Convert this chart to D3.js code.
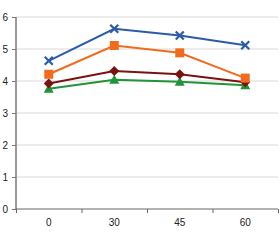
<!DOCTYPE html>
<html><head><meta charset="utf-8">
<script src="https://cdn.jsdelivr.net/npm/d3@7"></script>
<style>body{margin:0;background:#fff}svg{display:block}text{font-family:"Liberation Sans",Arial,sans-serif}</style>
</head><body><svg id="c" width="280" height="240"></svg>
<script>
const categories = ["0","30","45","60"];
const seriesBlue   = [4.63, 5.63, 5.42, 5.12];
const seriesOrange = [4.21, 5.11, 4.88, 4.09];
const seriesRed    = [3.92, 4.31, 4.21, 3.96];
const seriesGreen  = [3.76, 4.04, 3.98, 3.87];
const yTicks = [0,1,2,3,4,5,6];

const series = [
  {values: seriesGreen, color: "#1f9438", marker: "triangle"},
  {values: seriesRed, color: "#7a1212", marker: "diamond"},
  {values: seriesOrange, color: "#f26b1d", marker: "square"},
  {values: seriesBlue, color: "#2b5ba8", marker: "cross"}
];

const svg = d3.select("#c");
const x = d3.scaleBand().domain(categories).range([16, 278]);
const y = d3.scaleLinear().domain([0, 6]).range([209, 17]);

// grid
svg.append("g").selectAll("line").data(yTicks.filter(d=>d>0)).join("line")
  .attr("x1", 16).attr("x2", 278).attr("y1", d=>y(d)).attr("y2", d=>y(d))
  .attr("stroke", "#d8d8d8").attr("stroke-width", 1);

// y axis
const ya = svg.append("g").attr("transform","translate(16,0)")
  .call(d3.axisLeft(y).tickValues(yTicks).tickSize(4).tickPadding(4).tickFormat(d3.format("d")));
ya.select(".domain").attr("stroke","#9a9a9a").attr("stroke-width",2).attr("d","M0,17V209");
ya.selectAll(".tick line").attr("stroke","#777");
ya.selectAll("text").attr("font-size",10).attr("fill","#222");

// x axis
const xa = svg.append("g").attr("transform","translate(0,209)")
  .call(d3.axisBottom(x).tickSize(0).tickPadding(10));
xa.select(".domain").attr("stroke","#666").attr("stroke-width",1).attr("d","M16,0H278");
xa.selectAll("text").attr("font-size",10).attr("fill","#222");
const bounds = categories.map(c=>x(c)).concat([x.range()[1]]);
svg.append("g").selectAll("line").data(bounds).join("line")
  .attr("x1", d=>d+0.5).attr("x2", d=>d+0.5).attr("y1", 209).attr("y2", 213)
  .attr("stroke", "#666");

const cx = c => x(c) + x.bandwidth()/2;
const line = d3.line().x((d,i)=>cx(categories[i])).y(d=>y(d));

series.forEach(s => {
  svg.append("path").datum(s.values).attr("d", line)
    .attr("fill","none").attr("stroke", s.color).attr("stroke-width", 2);
  const g = svg.append("g");
  s.values.forEach((v,i) => {
    const px = cx(categories[i]), py = y(v);
    if (s.marker === "cross") {
      g.append("path").attr("d", `M${px-4},${py-4}L${px+4},${py+4}M${px-4},${py+4}L${px+4},${py-4}`)
        .attr("stroke", s.color).attr("stroke-width", 2.2);
    } else if (s.marker === "square") {
      g.append("rect").attr("x", px-4.5).attr("y", py-4.5).attr("width", 9).attr("height", 9).attr("fill", s.color);
    } else if (s.marker === "diamond") {
      g.append("path").attr("d", `M${px},${py-5}L${px+5},${py}L${px},${py+5}L${px-5},${py}Z`).attr("fill", s.color);
    } else {
      g.append("path").attr("d", `M${px},${py-5}L${px+5},${py+4}L${px-5},${py+4}Z`).attr("fill", s.color);
    }
  });
});
</script></body></html>
